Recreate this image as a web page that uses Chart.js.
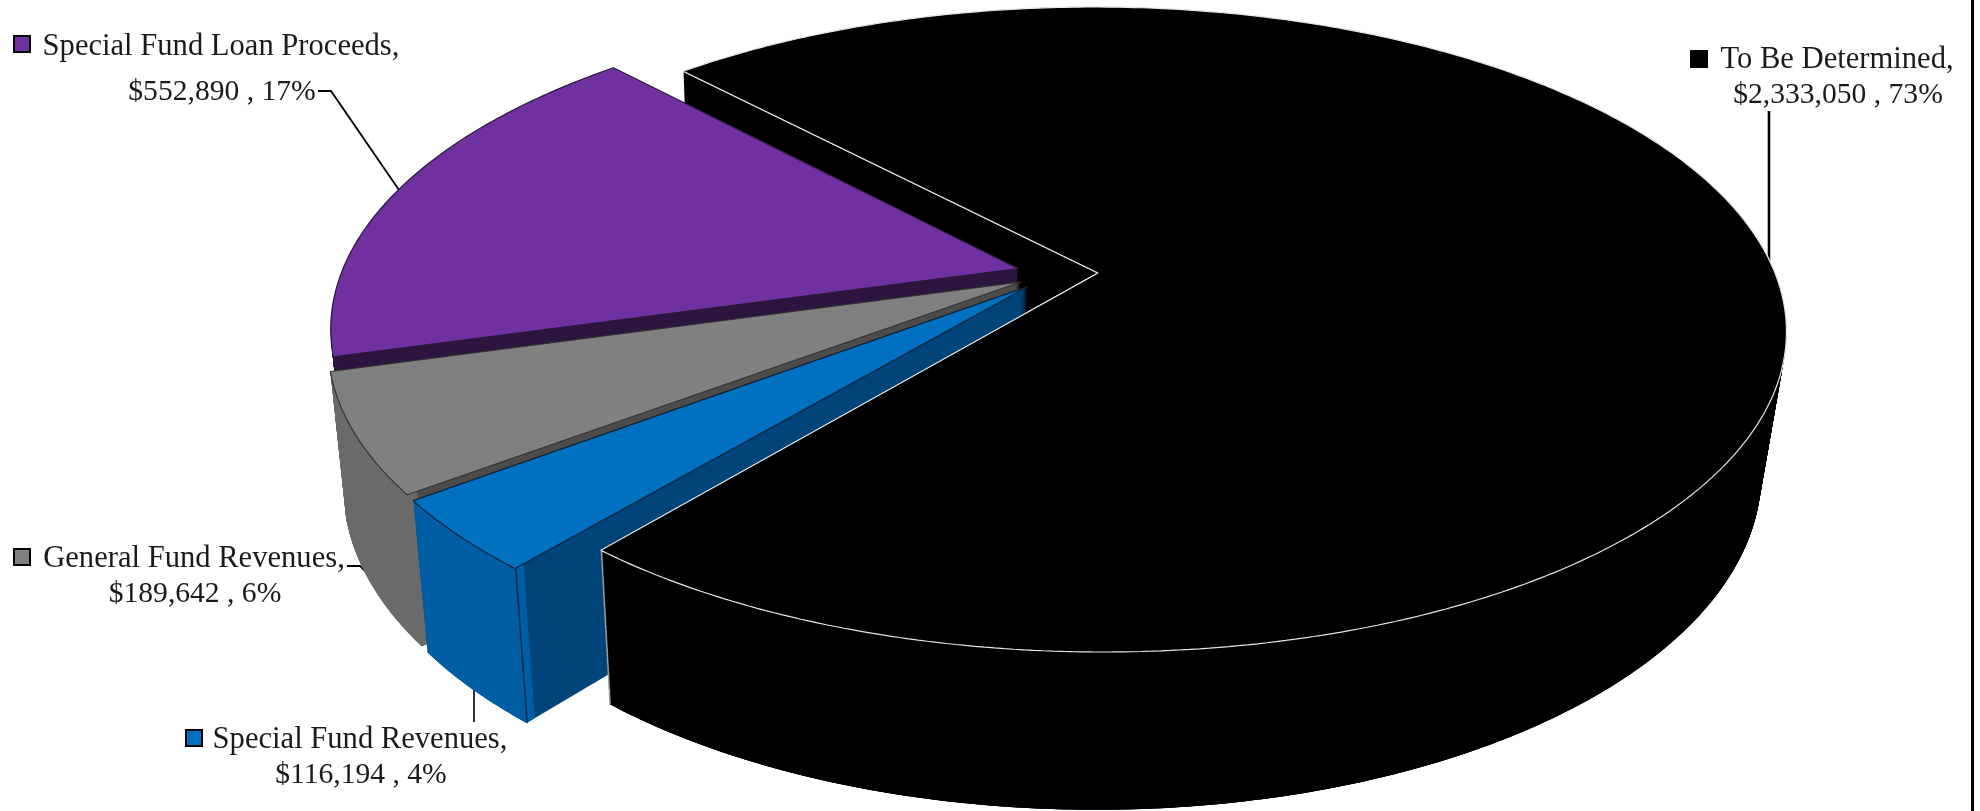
<!DOCTYPE html>
<html>
<head>
<meta charset="utf-8">
<title>Funding sources</title>
<script src="https://cdn.jsdelivr.net/npm/chart.js@4/dist/chart.umd.min.js"></script>
<style>
  html, body { margin: 0; padding: 0; background: #fff; overflow: hidden; }
  canvas { display: block; }
</style>
</head>
<body>
<canvas id="pie" width="1980" height="811"></canvas>
<script>
const categories = ["To Be Determined", "Special Fund Revenues", "General Fund Revenues", "Special Fund Loan Proceeds"];
const amounts = [2333050, 116194, 189642, 552890];
const amountLabels = ["$2,333,050", "$116,194", "$189,642", "$552,890"];
const percentLabels = ["73%", "4%", "6%", "17%"];

const topColors = ["#000000", "#0070c0", "#808080", "#7030a0"];
const rimColors = ["#000000", "#005ea4", "#6b6b6b", "#2d1640"];
const cutColors = ["#000000", "#00457a", "#4d4d4d", "#2d1640"];
const edgeColors = ["#e8e8e8", "#10233a", "#333333", "#2a1a3a"];

// where the label text sits, per category
const labelBoxes = [
  { box: [1691, 51], line1: 1837, line2: 1838, y1: 60, y2: 95 },
  { box: [186, 730], line1: 360, line2: 361, y1: 740, y2: 775 },
  { box: [14, 549], line1: 194, line2: 195, y1: 559, y2: 594 },
  { box: [14, 36], line1: 221, line2: 222, y1: 47, y2: 92 }
];
const leaders = [
  { width: 2.6, pts: [[1769, 111], [1769, 270]] },
  { width: 1.6, pts: [[474, 690], [474, 722]] },
  { width: 1.8, pts: [[347, 566], [360, 566], [385, 592]] },
  { width: 1.8, pts: [[318, 91], [331, 91], [399, 190]] }
];

// perspective of the tilted disc, fitted against the reference
const view = { cx: 1098, cy: 273, sx: 677, sy: 312.6, k: 0.175, shear: 4.5 };
const thick = { shrink: 0.0277, drop: 145, drift: -6, layers: 170 };
const explode = 0.06;
const origin = [-0.06, 0.002];

function project(u, v, t) {
  const w = 1 - view.k * v + thick.shrink * t;
  return [
    view.cx + (u * view.sx + v * view.shear + thick.drift * t) / w,
    view.cy + (v * view.sy + thick.drop * t) / w
  ];
}

// hands the arc element a context that bends everything it draws through project()
function discContext(ctx, arc, t) {
  const R = arc.outerRadius;
  const mid = (arc.startAngleFull + arc.endAngleFull) / 2;
  const ox = origin[0] + explode * Math.cos(mid);
  const oy = origin[1] + explode * Math.sin(mid);
  const map = (x, y) => project((x - arc.x) / R + ox, (y - arc.y) / R + oy, t);
  const own = {
    moveTo(x, y) { const p = map(x, y); ctx.moveTo(p[0], p[1]); },
    lineTo(x, y) { const p = map(x, y); ctx.lineTo(p[0], p[1]); },
    arc(x, y, r, a0, a1, ccw) {
      if (ccw && a1 > a0) a1 -= Math.PI * 2;
      if (!ccw && a1 < a0) a1 += Math.PI * 2;
      const n = Math.max(1, Math.ceil(Math.abs(a1 - a0) / 0.012));
      for (let i = 0; i <= n; i++) {
        const a = a0 + (a1 - a0) * i / n;
        own.lineTo(x + r * Math.cos(a), y + r * Math.sin(a));
      }
    }
  };
  return new Proxy(ctx, {
    get(target, key) {
      if (own[key]) return own[key];
      const val = target[key];
      return typeof val === "function" ? val.bind(target) : val;
    },
    set(target, key, val) { target[key] = val; return true; }
  });
}

function drawAs(ctx, arc, t, changes) {
  const saved = {};
  for (const key in changes) { saved[key] = arc[key]; arc[key] = changes[key]; }
  arc.draw(discContext(ctx, arc, t));
  for (const key in saved) arc[key] = saved[key];
}

function flat(arc, color) {
  return Object.assign({}, arc.options, { backgroundColor: color, borderWidth: 0 });
}

function sweep(ctx, arc, color, changes) {
  for (let i = thick.layers; i >= 1; i--) {
    drawAs(ctx, arc, i / thick.layers, Object.assign({ options: flat(arc, color) }, changes));
  }
}

// thin vertical line down a slice's outer corner
function corner(ctx, arc, angle, color) {
  const span = 0.002;
  sweep(ctx, arc, color, {
    innerRadius: arc.outerRadius * 0.998,
    startAngle: angle - span / 2,
    endAngle: angle + span / 2,
    circumference: span
  });
}

function drawSlice(ctx, arc, i) {
  sweep(ctx, arc, cutColors[i], {});
  sweep(ctx, arc, rimColors[i], { innerRadius: arc.outerRadius * 0.985 });
  if (i === 1) corner(ctx, arc, arc.startAngle, edgeColors[1]);
  drawAs(ctx, arc, 0, {});
}

const pie3d = {
  id: "pie3d",
  beforeDatasetsDraw(chart) {
    const ctx = chart.ctx;
    const arcs = chart.getDatasetMeta(0).data;
    arcs.forEach(a => { a.startAngleFull = a.startAngle; a.endAngleFull = a.endAngle; });

    ctx.save();
    ctx.strokeStyle = "#000";
    leaders.forEach(l => {
      ctx.lineWidth = l.width;
      ctx.beginPath();
      l.pts.forEach((p, j) => j ? ctx.lineTo(p[0], p[1]) : ctx.moveTo(p[0], p[1]));
      ctx.stroke();
    });
    ctx.restore();

    // big slice first for its back wall, then again for the part in front of the blue one
    const big = arcs[0];
    drawSlice(ctx, big, 0);
    drawSlice(ctx, arcs[3], 3);
    drawSlice(ctx, arcs[2], 2);
    drawSlice(ctx, arcs[1], 1);
    const from = Math.PI * 2;
    sweep(ctx, big, "#000000", { startAngle: from, circumference: big.endAngle - from });
    corner(ctx, big, big.endAngle, "#b8b8b8");
    drawAs(ctx, big, 0, {});
    return false;
  },
  afterDraw(chart) {
    const ctx = chart.ctx;
    ctx.save();
    ctx.fillStyle = "#000";
    ctx.fillRect(1971, 0, 3, 811);
    ctx.textBaseline = "middle";
    ctx.textAlign = "center";
    categories.forEach((name, i) => {
      const b = labelBoxes[i];
      ctx.fillStyle = topColors[i];
      ctx.strokeStyle = "#000";
      ctx.lineWidth = 2;
      ctx.fillRect(b.box[0], b.box[1], 16, 16);
      ctx.strokeRect(b.box[0], b.box[1], 16, 16);
      ctx.fillStyle = "#1a1a1a";
      ctx.font = '30.6px "Liberation Serif"';
      ctx.fillText(name + ",", b.line1, b.y1);
      ctx.font = '29.6px "Liberation Serif"';
      ctx.fillText(amountLabels[i] + " , " + percentLabels[i], b.line2, b.y2);
    });
    ctx.restore();
  }
};

new Chart(document.getElementById("pie"), {
  type: "pie",
  data: {
    labels: categories,
    datasets: [{
      data: amounts,
      backgroundColor: topColors,
      borderColor: edgeColors,
      borderWidth: 1.2
    }]
  },
  options: {
    responsive: false,
    animation: false,
    rotation: 316.7,
    plugins: {
      legend: { display: false },
      tooltip: { enabled: false }
    }
  },
  plugins: [pie3d]
});
</script>
</body>
</html>
